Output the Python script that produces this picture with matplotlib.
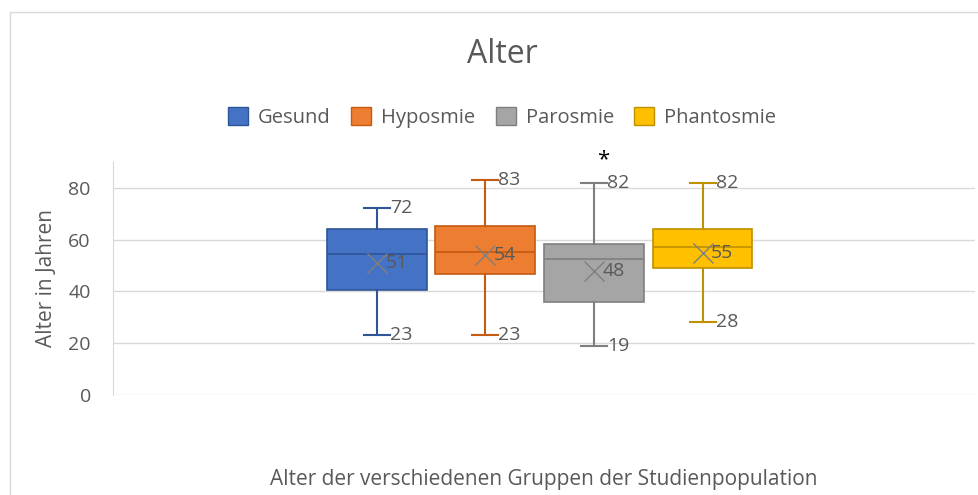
import matplotlib.pyplot as plt
from matplotlib.patches import Rectangle

# Daten
gruppen = ["Gesund", "Hyposmie", "Parosmie", "Phantosmie"]
minimum = [23, 23, 19, 28]
q1 = [40.6, 46.8, 35.8, 49.0]
median = [54.3, 55.1, 52.4, 57.2]
q3 = [64.2, 65.3, 58.2, 64.2]
maximum = [72, 83, 82, 82]
mittelwert = [51, 54, 48, 55]

farben = ["#4472C4", "#ED7D31", "#A5A5A5", "#FFC000"]
kanten = ["#2F5597", "#C55A11", "#7F7F7F", "#BF9000"]
grau = "#595959"

plt.rcParams['font.family'] = ['Open Sans', 'DejaVu Sans']

fig = plt.figure(figsize=(9.79, 4.95), dpi=100)
fig.patches.append(Rectangle((10 / 979, -0.01), 1.0, 1 - 12 / 495 + 0.01, transform=fig.transFigure,
                             fill=False, edgecolor="#D9D9D9", linewidth=1))
ax = fig.add_axes([0.1154, 0.202, 0.8806, 0.471])

stats = []
for i, g in enumerate(gruppen):
    stats.append({"label": g, "whislo": minimum[i], "q1": q1[i], "med": median[i],
                  "q3": q3[i], "whishi": maximum[i], "mean": mittelwert[i], "fliers": []})

pos = list(range(len(gruppen)))
for i in pos:
    ax.bxp([stats[i]], positions=[i], widths=0.92, patch_artist=True, showmeans=True,
           boxprops=dict(facecolor=farben[i], edgecolor=kanten[i], linewidth=1.2),
           medianprops=dict(color=kanten[i], linewidth=1.2),
           whiskerprops=dict(color=kanten[i], linewidth=1.5),
           capprops=dict(color=kanten[i], linewidth=1.5),
           capwidths=0.24,
           meanprops=dict(marker="x", markeredgecolor="#7f7f7f", markersize=14, markeredgewidth=1.0),
           manage_ticks=False)
    # Beschriftungen
    ax.text(i + 0.12, maximum[i], str(maximum[i]), va="center", ha="left", fontsize=14, color=grau)
    ax.text(i + 0.12, minimum[i], str(minimum[i]), va="center", ha="left", fontsize=14, color=grau)
    ax.text(i + 0.08, mittelwert[i], str(mittelwert[i]), va="center", ha="left", fontsize=14, color=grau)

ax.text(2.08, 91, "*", ha="center", va="center", fontsize=16, color="black", clip_on=False)

ax.set_xlim(-2.43, 5.51)
ax.set_ylim(0, 90)
ax.set_yticks([0, 20, 40, 60, 80])
ax.set_xticks([])
ax.grid(axis="y", color="#D9D9D9", linewidth=1)
ax.set_axisbelow(True)
for s in ["top", "right", "bottom"]:
    ax.spines[s].set_visible(False)
ax.spines["left"].set_color("#D9D9D9")
ax.tick_params(axis="y", length=0, labelsize=14, labelcolor=grau, pad=16)
ax.set_ylabel("Alter in Jahren", fontsize=15, color=grau, labelpad=8)
ax.set_xlabel("Alter der verschiedenen Gruppen der Studienpopulation", fontsize=15, color=grau, labelpad=53)

fig.text(0.513, 0.89, "Alter", ha="center", va="center", fontsize=23, color=grau)

handles = [Rectangle((0, 0), 1, 1, facecolor=farben[i], edgecolor=kanten[i]) for i in pos]
fig.legend(handles, gruppen, loc="center", bbox_to_anchor=(0.513, 0.763), ncol=4, frameon=False,
           fontsize=14.5, labelcolor=grau, handlelength=1.0, handleheight=1.0, columnspacing=1.0,
           handletextpad=0.5)

fig.savefig("out.png", dpi=100)
